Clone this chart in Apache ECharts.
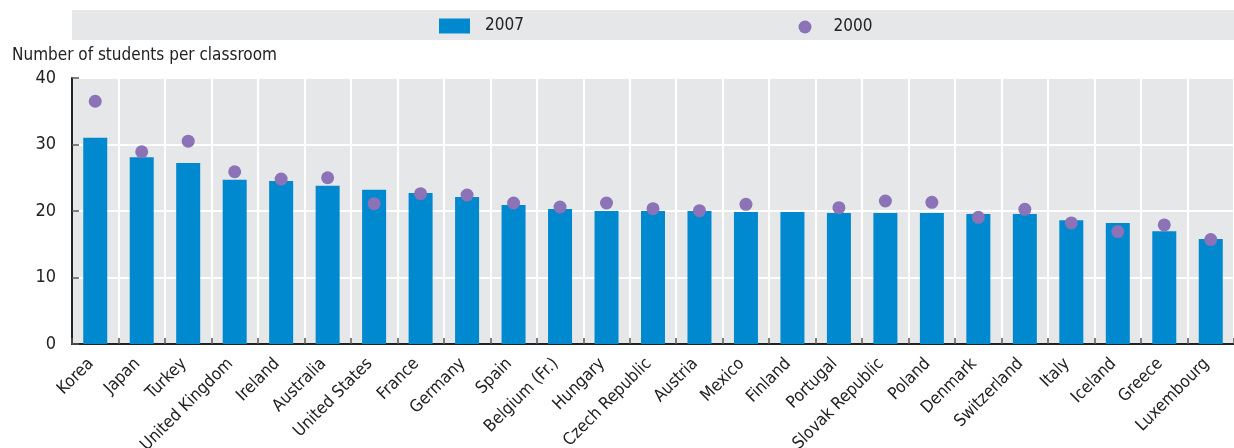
<!DOCTYPE html>
<html>
<head>
<meta charset="utf-8">
<script src="https://cdn.jsdelivr.net/npm/echarts@6/dist/echarts.min.js"></script>
<style>
html,body{margin:0;padding:0;background:#fff;}
#chart{width:1234px;height:448px;}
</style>
</head>
<body>
<div id="chart"></div>
<script>
const categories = ['Korea','Japan','Turkey','United Kingdom','Ireland','Australia','United States','France','Germany','Spain','Belgium (Fr.)','Hungary','Czech Republic','Austria','Mexico','Finland','Portugal','Slovak Republic','Poland','Denmark','Switzerland','Italy','Iceland','Greece','Luxembourg'];
const values2007 = [31.0,28.1,27.2,24.7,24.5,23.8,23.2,22.7,22.1,20.9,20.3,20.0,20.0,20.0,19.85,19.85,19.7,19.7,19.7,19.55,19.55,18.6,18.2,16.95,15.8];
const values2000 = [36.5,28.9,30.5,25.9,24.8,25.0,21.1,22.6,22.4,21.2,20.6,21.2,20.35,20.05,21.0,null,20.5,21.5,21.3,19.05,20.25,18.2,16.9,17.9,15.7];
const yTicks = [0,10,20,30,40];
const yTitle = 'Number of students per classroom';

const FONT = '"Liberation Sans Narrow","DejaVu Sans Condensed","Liberation Sans",sans-serif';
const chart = echarts.init(document.getElementById('chart'), null, {renderer:'canvas'});
chart.setOption({
  animation:false,
  textStyle:{fontFamily:FONT},
  graphic:[
    {type:'rect', shape:{x:72,y:10,width:1162,height:30}, style:{fill:'#E6E7E9'}, z:0, silent:true},
    {type:'text', left:12, top:47, style:{text:yTitle, font:'17px '+FONT, fill:'#222'}, z:5}
  ],
  legend:[
    {data:[{name:'2007', icon:'rect'}], left:439, top:17.5, padding:0, itemWidth:31, itemHeight:15,
     textStyle:{fontSize:17, color:'#222', fontFamily:FONT, padding:[0,0,0,10]}, z:5},
    {data:[{name:'2000', icon:'circle'}], left:798.5, top:18.5, padding:0, itemWidth:13, itemHeight:13,
     textStyle:{fontSize:17, color:'#222', fontFamily:FONT, padding:[0,0,0,17]}, z:5}
  ],
  grid:{left:72, right:0, top:78, bottom:104, containLabel:false, outerBoundsMode:'none',
        show:true, backgroundColor:'#E6E7E9', borderWidth:0},
  xAxis:{
    type:'category', data:categories,
    axisLine:{lineStyle:{color:'#222', width:2}},
    axisTick:{show:true, inside:true, length:6, alignWithLabel:false, lineStyle:{color:'#555', width:1.5}},
    splitLine:{show:true, lineStyle:{color:'#fff', width:2}},
    axisLabel:{rotate:45, fontSize:17, color:'#222', fontFamily:FONT, margin:13, interval:0, padding:[0,6,0,0], hideOverlap:false}
  },
  yAxis:{
    type:'value', min:0, max:40, interval:10,
    axisLine:{show:true, lineStyle:{color:'#222', width:2}},
    axisTick:{show:true, inside:true, length:7, lineStyle:{color:'#555', width:1.5}},
    splitLine:{show:true, lineStyle:{color:'#fff', width:2}},
    axisLabel:{fontSize:18, color:'#222', fontFamily:FONT, margin:16,
      formatter:function(v){return yTicks.indexOf(v)>=0?String(v):'';}}
  },
  series:[
    {name:'2007', type:'bar', data:values2007, barWidth:24, itemStyle:{color:'#0089CF'}, z:2},
    {name:'2000', type:'scatter', data:values2000, symbolSize:13, itemStyle:{color:'#8C72B6', opacity:1}, z:3}
  ]
});
</script>
</body>
</html>
